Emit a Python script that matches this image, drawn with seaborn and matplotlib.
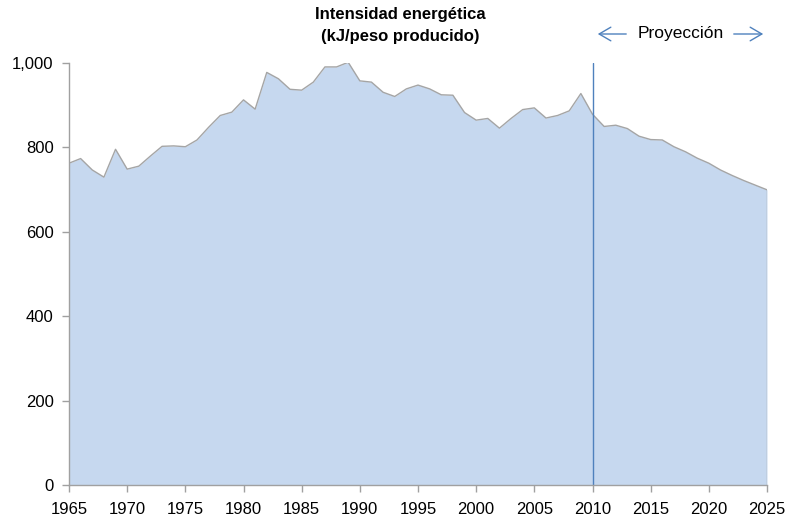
import pandas as pd
import matplotlib.pyplot as plt
import matplotlib.ticker as mticker
from matplotlib.patches import FancyArrowPatch
import seaborn as sns

# energy intensity, kJ per peso produced (history up to 2010, projection after)
years = list(range(1965, 2026))
intensity = [
    762, 773, 746, 729, 795, 748, 755, 779, 802, 803,   # 1965-1974
    801, 817, 847, 875, 883, 912, 890, 977, 962, 937,   # 1975-1984
    935, 954, 990, 990, 1001, 957, 954, 930, 920, 938,  # 1985-1994
    947, 938, 924, 923, 882, 864, 868, 845, 868, 889,   # 1995-2004
    893, 869, 875, 886, 927, 878, 849, 852, 844, 826,   # 2005-2014
    818, 817, 801, 789, 774, 762, 746, 733, 721, 710,   # 2015-2024
    699,                                                 # 2025
]
projection_start = 2010
x_ticks = list(range(1965, 2026, 5))
y_ticks = [0, 200, 400, 600, 800, 1000]


def draw_chart():
    df = pd.DataFrame({'year': years, 'intensity': intensity})

    sns.set_style("white")
    plt.rcParams['font.family'] = ['Liberation Sans', 'DejaVu Sans']
    plt.rcParams['text.color'] = 'black'

    fig = plt.figure(figsize=(7.92, 5.27), dpi=100)
    ax = fig.add_axes([69 / 792, 1 - 485 / 527, (767 - 69) / 792, (485 - 62.7) / 527])

    ax.fill_between(df['year'], df['intensity'], 0, color='#C6D8EF', linewidth=0, zorder=1)
    sns.lineplot(data=df, x='year', y='intensity', ax=ax, color='#A5A5A5', linewidth=1.0, zorder=2)
    # closing edge of the area at the right end
    ax.plot([years[-1], years[-1]], [0, intensity[-1]], color='#A5A5A5', linewidth=1.0, zorder=2)

    ax.axvline(projection_start, color='#4F81BD', linewidth=1.0, zorder=3)

    ax.set_xlim(1965, 2025)
    ax.set_ylim(0, 1000)
    ax.set_xticks(x_ticks)
    ax.set_yticks(y_ticks)
    ax.yaxis.set_major_formatter(mticker.FuncFormatter(lambda v, loc: f"{v:,.0f}"))
    ax.set_xlabel('')
    ax.set_ylabel('')
    ax.tick_params(axis='both', labelsize=12, labelcolor='black', length=5, width=1,
                   direction='out', bottom=True, left=True, color='#A0A0A0')
    ax.tick_params(axis='x', pad=7)
    ax.tick_params(axis='y', pad=6)

    for side in ['top', 'right']:
        ax.spines[side].set_visible(False)
    for side in ['left', 'bottom']:
        ax.spines[side].set_color('#A0A0A0')
        ax.spines[side].set_linewidth(1.0)
        ax.spines[side].set_zorder(4)

    fig.text(400 / 792, 1 - 14 / 527, 'Intensidad energética', ha='center', va='center',
             fontsize=12, weight='bold', color='black')
    fig.text(400 / 792, 1 - 36 / 527, '(kJ/peso producido)', ha='center', va='center',
             fontsize=12, weight='bold', color='black')

    # projection label with arrows
    arrow_y = 1 - 34 / 527
    fig.text(681 / 792, arrow_y, 'Proyección', ha='center', va='center', fontsize=12.5,
             color='black')
    arrow_style = dict(arrowstyle='->,head_length=0.6,head_width=0.35', color='#4F81BD',
                       lw=1.0, mutation_scale=14)
    fig.patches.append(FancyArrowPatch((629 / 792, arrow_y), (595 / 792, arrow_y),
                                       transform=fig.transFigure, **arrow_style))
    fig.patches.append(FancyArrowPatch((731 / 792, arrow_y), (766 / 792, arrow_y),
                                       transform=fig.transFigure, **arrow_style))

    fig.savefig('out.png', dpi=100)


if __name__ == "__main__":
    draw_chart()
